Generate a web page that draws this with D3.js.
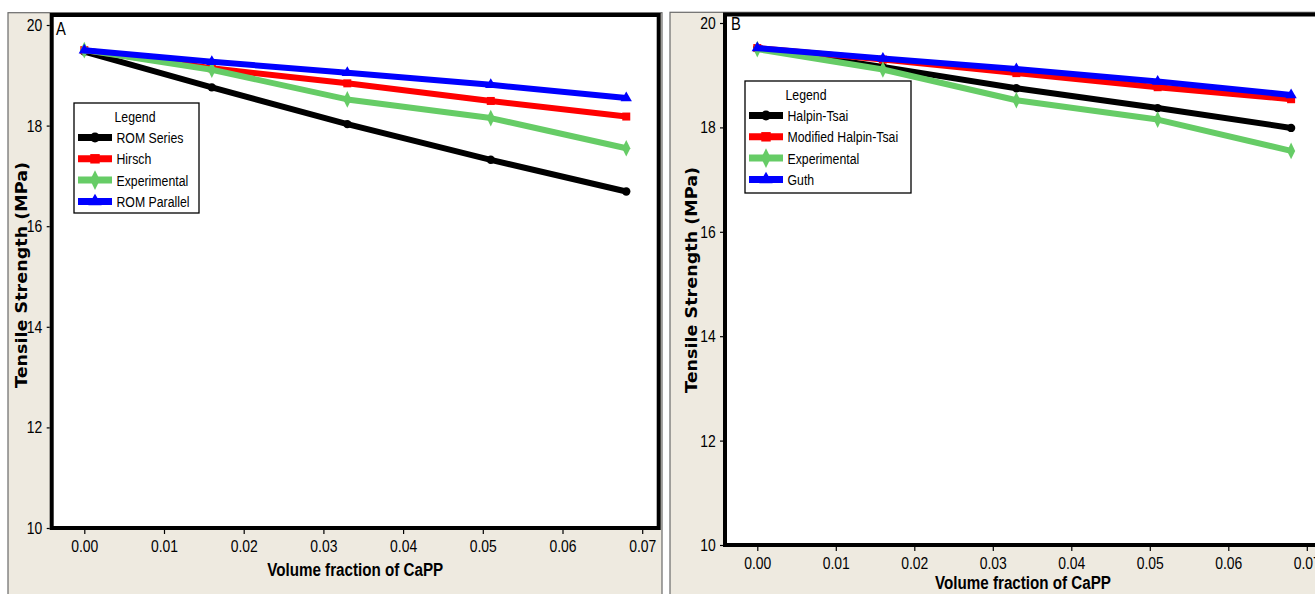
<!DOCTYPE html>
<html><head><meta charset="utf-8">
<script src="https://cdn.jsdelivr.net/npm/d3@7"></script>
<style>
html,body{margin:0;padding:0;background:#fff;overflow:hidden;}
svg{display:block;}
</style></head>
<body>
<svg id="chart" width="1315" height="594"></svg>
<script>
// ---------- data ----------
const xValues = [0, 0.016, 0.033, 0.051, 0.068];
const xTickValues = [0, 0.01, 0.02, 0.03, 0.04, 0.05, 0.06, 0.07];
const yTickValues = [10, 12, 14, 16, 18, 20];

const seriesNamesA = ["ROM Series", "Hirsch", "Experimental", "ROM Parallel"];
const romSeries   = [19.47, 18.76, 18.03, 17.32, 16.69];
const hirsch      = [19.50, 19.14, 18.84, 18.49, 18.18];
const experimental= [19.50, 19.11, 18.52, 18.15, 17.55];
const romParallel = [19.50, 19.27, 19.05, 18.81, 18.55];

const seriesNamesB = ["Halpin-Tsai", "Modified Halpin-Tsai", "Experimental", "Guth"];
const halpinTsai  = [19.52, 19.16, 18.75, 18.37, 17.99];
const modHalpin   = [19.52, 19.30, 19.04, 18.77, 18.54];
const guth        = [19.52, 19.32, 19.12, 18.88, 18.62];

const xTitle = "Volume fraction of CaPP";
const yTitle = "Tensile Strength (MPa)";

// ---------- styles ----------
const colors = ["#000000", "#ff0000", "#66cc66", "#0000ff"];
const symbols = [d3.symbolCircle, d3.symbolSquare, d3.symbolDiamond, d3.symbolTriangle];
const symSizes = [55, 64, 80, 55];
const beige = "#eeeae0";
const sans = "'Liberation Sans', Arial, sans-serif";
const narrowT = "scale(0.82,1)";

const svg = d3.select("#chart");

function panel(cfg) {
  const g = svg.append("g");
  // outer frame
  g.append("rect").attr("x", cfg.frame[0]).attr("y", cfg.frame[1])
    .attr("width", cfg.frame[2]).attr("height", cfg.frame[3])
    .attr("fill", beige).attr("stroke", "#6a6a6a").attr("stroke-width", 1.2);

  const x = d3.scaleLinear().domain([0, 0.07]).range(cfg.xRange);
  const y = d3.scaleLinear().domain([10, 20]).range(cfg.yRange);
  const [pl, pt, pr, pb] = cfg.plot;

  // plot background
  g.append("rect").attr("x", pl).attr("y", pt).attr("width", pr - pl).attr("height", pb - pt)
    .attr("fill", "#fff");

  // axes
  const yAxis = d3.axisLeft(y).tickValues(yTickValues).tickFormat(d3.format("d"))
    .tickSize(3).tickPadding(6);
  const ya = g.append("g").attr("transform", `translate(${pl - 2},0)`).call(yAxis);
  ya.select(".domain").remove();
  ya.selectAll("line").attr("stroke", "#000").attr("stroke-width", 1.2);
  ya.selectAll("text").attr("font-family", sans).attr("font-size", 17).attr("fill", "#000")
    .attr("transform", narrowT);

  const xAxis = d3.axisBottom(x).tickValues(xTickValues).tickFormat(d3.format(".2f"))
    .tickSize(4).tickPadding(6);
  const xa = g.append("g").attr("transform", `translate(0,${pb + 2})`).call(xAxis);
  xa.select(".domain").remove();
  xa.selectAll("line").attr("stroke", "#000").attr("stroke-width", 1.2);
  xa.selectAll("text").attr("font-family", sans).attr("font-size", 17).attr("fill", "#000")
    .attr("transform", narrowT);

  // axis titles
  g.append("text").attr("x", (pl + cfg.visibleRight) / 2 + cfg.xTitleShift).attr("y", cfg.xTitleY)
    .attr("text-anchor", "middle").attr("font-family", sans).attr("font-weight", "bold")
    .attr("font-size", 18).attr("textLength", 176).attr("lengthAdjust", "spacingAndGlyphs")
    .text(xTitle);
  g.append("text").attr("transform", `translate(${cfg.yTitleX},${cfg.yTitleCY}) rotate(-90)`)
    .attr("text-anchor", "middle").attr("font-family", "'DejaVu Sans', sans-serif")
    .attr("font-weight", "bold").attr("font-size", 15)
    .attr("textLength", 226).attr("lengthAdjust", "spacingAndGlyphs")
    .text(yTitle);

  // series
  const line = d3.line().x((d, i) => x(xValues[i])).y(d => y(d));
  cfg.series.forEach((s, k) => {
    g.append("path").datum(s).attr("d", line).attr("fill", "none")
      .attr("stroke", colors[k]).attr("stroke-width", 6).attr("stroke-linejoin", "round");
    g.selectAll(null).data(s).enter().append("path")
      .attr("transform", (d, i) => `translate(${x(xValues[i])},${y(d)})` + (k === 2 ? " scale(0.85,1)" : ""))
      .attr("d", d3.symbol().type(symbols[k]).size(symSizes[k]))
      .attr("fill", colors[k]);
  });

  // panel letter
  g.append("text").attr("transform", `translate(${cfg.letterXY[0]},${cfg.letterXY[1]}) ${narrowT}`)
    .attr("font-family", sans).attr("font-size", 18).text(cfg.letter);

  // legend
  const [lx, ly, lw, lh] = cfg.legend;
  const lg = g.append("g");
  lg.append("rect").attr("x", lx).attr("y", ly).attr("width", lw).attr("height", lh)
    .attr("fill", "#fff").attr("stroke", "#000").attr("stroke-width", 1.3);
  lg.append("text").attr("transform", `translate(${lx + cfg.legendTitleDX},${ly + 19}) ${narrowT}`)
    .attr("text-anchor", "middle").attr("font-family", sans).attr("font-size", 15).text("Legend");
  cfg.names.forEach((n, k) => {
    const cy = ly + 34.5 + k * 21.3;
    lg.append("line").attr("x1", lx + 4).attr("x2", lx + 38).attr("y1", cy).attr("y2", cy)
      .attr("stroke", colors[k]).attr("stroke-width", 7);
    lg.append("path").attr("transform", `translate(${lx + 21},${cy})` + (k === 2 ? " scale(0.85,1)" : ""))
      .attr("d", d3.symbol().type(symbols[k]).size(symSizes[k] * 1.4)).attr("fill", colors[k]);
    lg.append("text").attr("transform", `translate(${lx + 42.5},${cy + 5.5}) ${narrowT}`)
      .attr("font-family", sans).attr("font-size", 15).text(n);
  });

  // plot border
  g.append("rect").attr("x", pl).attr("y", pt).attr("width", pr - pl).attr("height", pb - pt)
    .attr("fill", "none").attr("stroke", "#000").attr("stroke-width", 4);
}

panel({
  frame: [8, 12.7, 654, 600],
  plot: [51.7, 15, 658.7, 528],
  visibleRight: 658.7,
  xTitleShift: 0,
  xRange: [84.3, 642.2],
  yRange: [528, 25],
  xTitleY: 576,
  yTitleX: 27, yTitleCY: 275,
  series: [romSeries, hirsch, experimental, romParallel],
  names: seriesNamesA,
  legend: [74, 103, 125, 110],
  legendTitleDX: 61,
  letter: "A", letterXY: [56, 35]
});

panel({
  frame: [670, 12.3, 700, 600],
  plot: [725, 14.5, 1323, 545],
  visibleRight: 1323,
  xTitleShift: -1,
  xRange: [757.3, 1306.8],
  yRange: [545, 23],
  xTitleY: 589,
  yTitleX: 697, yTitleCY: 280,
  series: [halpinTsai, modHalpin, experimental, guth],
  names: seriesNamesB,
  legend: [745, 81, 166, 112],
  legendTitleDX: 61,
  letter: "B", letterXY: [731, 30]
});
</script>
</body></html>
